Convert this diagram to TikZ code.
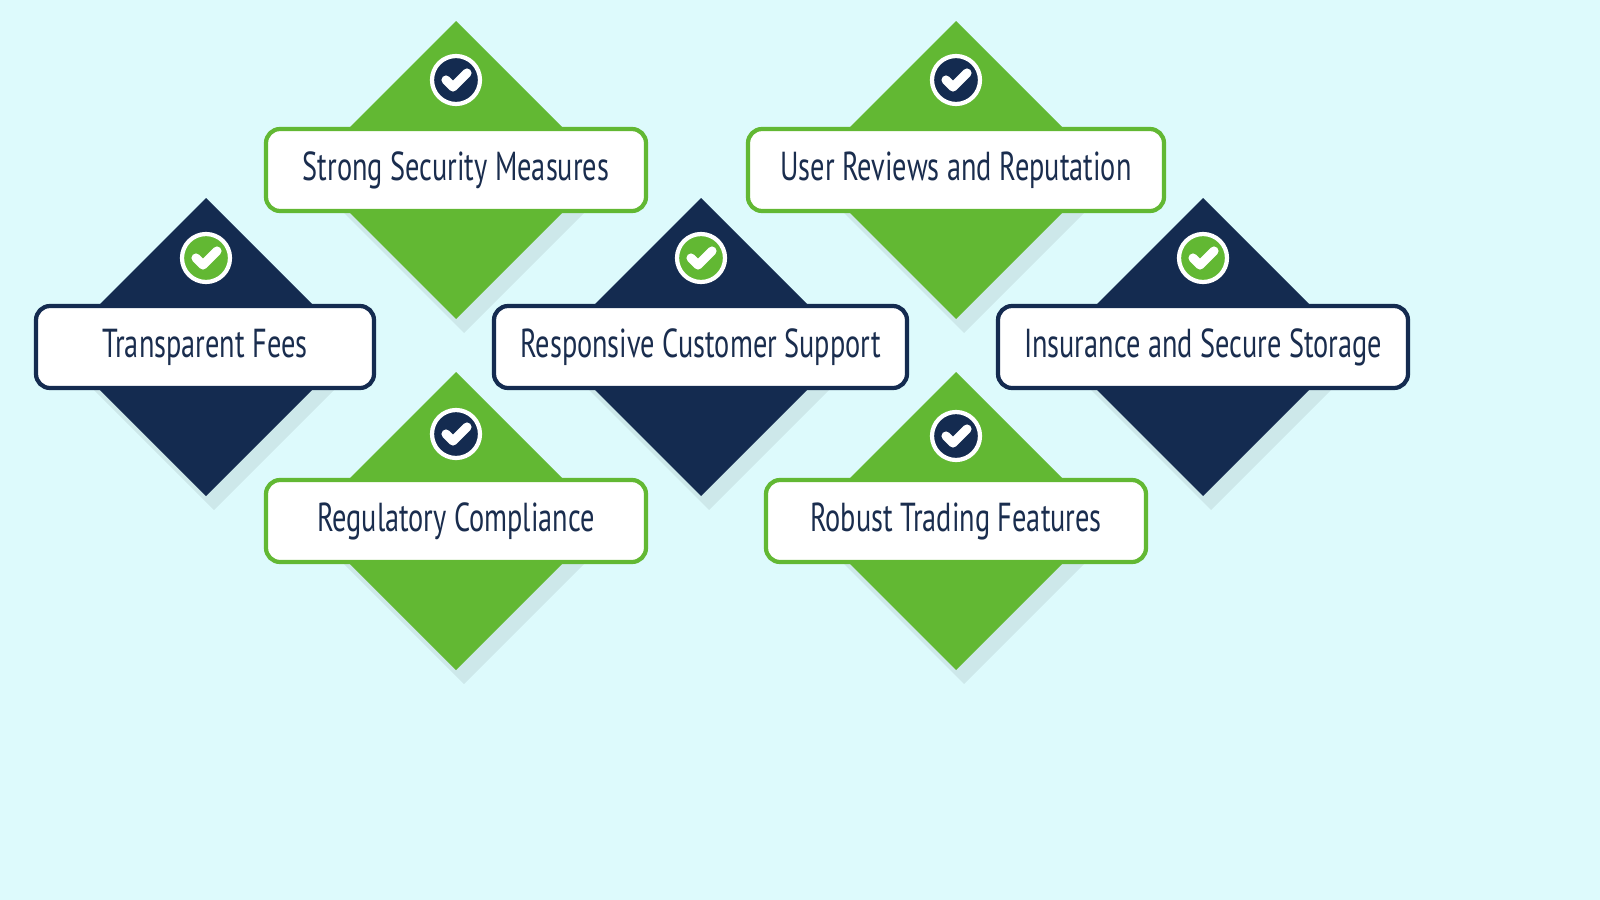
\documentclass[tikz,border=0pt]{standalone}
\usepackage{fontspec}
\setmainfont{PT Sans}
\definecolor{bg}{HTML}{DDFAFC}
\definecolor{gr}{HTML}{62B833}
\definecolor{nv}{HTML}{142B50}
\definecolor{tx}{HTML}{1A2D4E}
\tikzset{
 lbl/.style={draw=#1, line width=1.2pt, fill=white, rounded corners=4pt, text=tx, font=\fontsize{11.5}{13}\selectfont, inner sep=0pt, anchor=center},
 chk/.style={circle, fill=#1, draw=white, line width=1.2pt, minimum size=48*0.01cm, inner sep=0pt}
}
\newcommand{\dmd}[4]{% x y color name
 \fill[black, opacity=0.07] (#1+8,#2-149+14) -- (#1+157,#2+14) -- (#1+8,#2+149+14) -- (#1-141,#2+14) -- cycle;
 \fill[#3] (#1,#2-149) -- (#1+149,#2) -- (#1,#2+149) -- (#1-149,#2) -- cycle;
 \coordinate (#4) at (#1,#2);
}
\newcommand{\ck}[4]{% name x y fill
 \node[chk=#4] (#1) at (#2,#3) {};
 \draw[white, line width=2.6pt, line cap=round, line join=round] ($(#1)+(-10,0)$) -- ($(#1)+(-3,7)$) -- ($(#1)+(11,-7)$);
}
\newcommand{\lb}[7]{% name x1 y1 x2 y2 color text
 \node[lbl=#6, minimum width={(#4-#2)*0.01cm}, minimum height={(#5-#3)*0.01cm}] (#1) at ({(#2+#4)/2},{(#3+#5)/2}) {\scalebox{0.7}[1]{#7}};
}
\usetikzlibrary{calc}
\begin{document}
\begin{tikzpicture}[x=0.01cm,y=-0.01cm]
\fill[bg] (0,0) rectangle (1600,900);
\useasboundingbox (0,0) rectangle (1600,900);
\dmd{456}{170}{gr}{d1}
\dmd{956}{170}{gr}{d2}
\dmd{206}{347}{nv}{d3}
\dmd{701}{347}{nv}{d4}
\dmd{1203}{347}{nv}{d5}
\dmd{456}{521}{gr}{d6}
\dmd{956}{521}{gr}{d7}
\ck{c1}{456}{80}{nv}
\ck{c2}{956}{80}{nv}
\ck{c3}{206}{258}{gr}
\ck{c4}{701}{258}{gr}
\ck{c5}{1203}{258}{gr}
\ck{c6}{456}{434}{nv}
\ck{c7}{956}{436}{nv}
\lb{l1}{266}{129}{646}{211}{gr}{Strong Security Measures}
\lb{l2}{748}{129}{1164}{211}{gr}{User Reviews and Reputation}
\lb{l3}{36}{306}{374}{388}{nv}{Transparent Fees}
\lb{l4}{494}{306}{907}{388}{nv}{Responsive Customer Support}
\lb{l5}{998}{306}{1408}{388}{nv}{Insurance and Secure Storage}
\lb{l6}{266}{480}{646}{562}{gr}{Regulatory Compliance}
\lb{l7}{766}{480}{1146}{562}{gr}{Robust Trading Features}
\end{tikzpicture}
\end{document}
